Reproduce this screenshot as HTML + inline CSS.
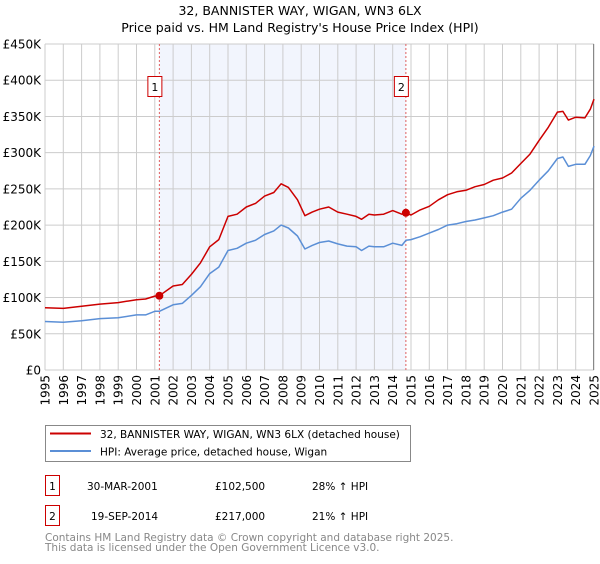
<!DOCTYPE html>
<html><head><meta charset="utf-8"><style>
body{margin:0;background:#fff;font-family:"DejaVu Sans","Liberation Sans",sans-serif;}
svg text{font-family:"DejaVu Sans","Liberation Sans",sans-serif;}
</style></head><body>
<svg id="chart" width="600" height="560" xmlns="http://www.w3.org/2000/svg">
<text x="300" y="15" text-anchor="middle" font-size="12.5">32, BANNISTER WAY, WIGAN, WN3 6LX</text>
<text x="300" y="32" text-anchor="middle" font-size="12.5">Price paid vs. HM Land Registry's House Price Index (HPI)</text>
<g id="plot"></g>
<g>
<rect x="45.5" y="425.5" width="365" height="36" fill="#fff" stroke="#888"/>
<line x1="50" y1="433.5" x2="91" y2="433.5" stroke="#cc0000" stroke-width="2"/>
<text x="100" y="438" font-size="10.5">32, BANNISTER WAY, WIGAN, WN3 6LX (detached house)</text>
<line x1="50" y1="451" x2="91" y2="451" stroke="#5b8fd6" stroke-width="2"/>
<text x="100" y="455.5" font-size="10.5">HPI: Average price, detached house, Wigan</text>
</g>
<g font-size="10.5">
<rect x="45.5" y="475.5" width="14" height="20" fill="#fff" stroke="#cc0000"/>
<text x="52.5" y="490" text-anchor="middle">1</text>
<text x="87" y="490">30-MAR-2001</text>
<text x="215" y="490">£102,500</text>
<text x="312" y="490">28% ↑ HPI</text>
<rect x="45.5" y="505.5" width="14" height="20" fill="#fff" stroke="#cc0000"/>
<text x="52.5" y="520" text-anchor="middle">2</text>
<text x="91" y="520">19-SEP-2014</text>
<text x="215" y="520">£217,000</text>
<text x="312" y="520">21% ↑ HPI</text>
</g>
<text x="45" y="541" font-size="10.5" fill="#888">Contains HM Land Registry data © Crown copyright and database right 2025.</text>
<text x="45" y="551" font-size="10.5" fill="#888">This data is licensed under the Open Government Licence v3.0.</text>
</svg>
<script>
const dates=[1995,1996,1997,1998,1999,2000,2000.5,2001,2001.25,2002,2002.5,2003,2003.5,2004,2004.5,2005,2005.5,2006,2006.5,2007,2007.5,2007.9,2008.3,2008.8,2009.2,2009.6,2010,2010.5,2011,2011.5,2012,2012.3,2012.7,2013,2013.5,2014,2014.5,2014.72,2015,2015.5,2016,2016.5,2017,2017.5,2018,2018.5,2019,2019.5,2020,2020.5,2021,2021.5,2022,2022.5,2023,2023.3,2023.6,2024,2024.5,2024.8,2025];
const propertyValues=[86,85,88,91,93,97,98,102,102.5,116,118,132,148,170,180,212,215,225,230,240,245,257,252,235,213,218,222,225,218,215,212,208,215,214,215,220,215,217,214,221,226,235,242,246,248,253,256,262,265,272,285,298,317,335,356,357,345,349,348,360,374];
const hpiValues=[67,66,68,71,72,76,76,81,81,90,92,103,115,133,142,165,168,175,179,187,192,200,196,185,167,172,176,178,174,171,170,165,171,170,170,175,172,179,180,184,189,194,200,202,205,207,210,213,218,222,237,248,262,275,292,294,281,284,284,296,309];
const yTicks=[0,50,100,150,200,250,300,350,400,450];
const yTickLabels=["£0","£50K","£100K","£150K","£200K","£250K","£300K","£350K","£400K","£450K"];
const years=[1995,1996,1997,1998,1999,2000,2001,2002,2003,2004,2005,2006,2007,2008,2009,2010,2011,2012,2013,2014,2015,2016,2017,2018,2019,2020,2021,2022,2023,2024,2025];
const saleDates=[2001.25,2014.72];
const salePrices=[102.5,217];
const saleLabels=["1","2"];
const X0=45,X1=594,Y0=370,Y1=44;
const xs=d=>X0+(d-1995)/30*(X1-X0);
const ys=v=>Y0-v/450*(Y0-Y1);
const NS="http://www.w3.org/2000/svg";
const plot=document.getElementById('plot');
function mk(tag,attrs,parent){const e=document.createElementNS(NS,tag);for(const k in attrs)e.setAttribute(k,attrs[k]);(parent||plot).appendChild(e);return e;}
let bg=mk('rect',{x:X0,y:Y1,width:X1-X0,height:Y0-Y1,fill:'#fff'});


let sh=mk('rect',{x:xs(saleDates[0]),y:Y1,width:xs(saleDates[1])-xs(saleDates[0]),height:Y0-Y1,fill:'#f2f5fd'});


yTicks.forEach((t,i)=>{
 let l=mk('line',{x1:X0,x2:X1,y1:ys(t),y2:ys(t),stroke:'#cccccc','stroke-width':1});
 
 
 let tx=mk('text',{x:X0-4,y:ys(t)+4.5,'text-anchor':'end','font-size':12});
 tx.textContent=yTickLabels[i];
 
 
});
years.forEach(y=>{
 let l=mk('line',{x1:xs(y),x2:xs(y),y1:Y1,y2:Y0,stroke:'#cccccc','stroke-width':1});
 
 
 let tx=mk('text',{x:0,y:0,'text-anchor':'end','font-size':12,transform:`translate(${xs(y)+4.5},${Y0+5}) rotate(-90)`});
 tx.textContent=y;
 
 
});
let ra=mk('line',{x1:X1-0.5,x2:X1-0.5,y1:Y1,y2:Y0,stroke:'#888','stroke-width':1});


saleDates.forEach((d,i)=>{
 let l=mk('line',{x1:xs(d),x2:xs(d),y1:Y1,y2:Y0,stroke:'#e06060','stroke-width':1,'stroke-dasharray':'2,2'});
 
 
});
function line(vals,color,name){
 const p=mk('polyline',{points:dates.map((d,i)=>xs(d).toFixed(1)+','+ys(vals[i]).toFixed(1)).join(' '),fill:'none',stroke:color,'stroke-width':1.5,'stroke-linejoin':'round'});
 
 
}
line(hpiValues,'#5b8fd6','hpi-line');
line(propertyValues,'#cc0000','property-line');
saleDates.forEach((d,i)=>{
 let c=mk('circle',{cx:xs(d),cy:ys(salePrices[i]),r:4,fill:'#cc0000'});
 
 
 let b=mk('rect',{x:xs(d)-11.5,y:76.5,width:14,height:20,fill:'#fff',stroke:'#cc0000'});
 
 
 let t=mk('text',{x:xs(d)-4.5,y:91,'text-anchor':'middle','font-size':11});
 t.textContent=saleLabels[i];
 
 
});
</script>
</body></html>
